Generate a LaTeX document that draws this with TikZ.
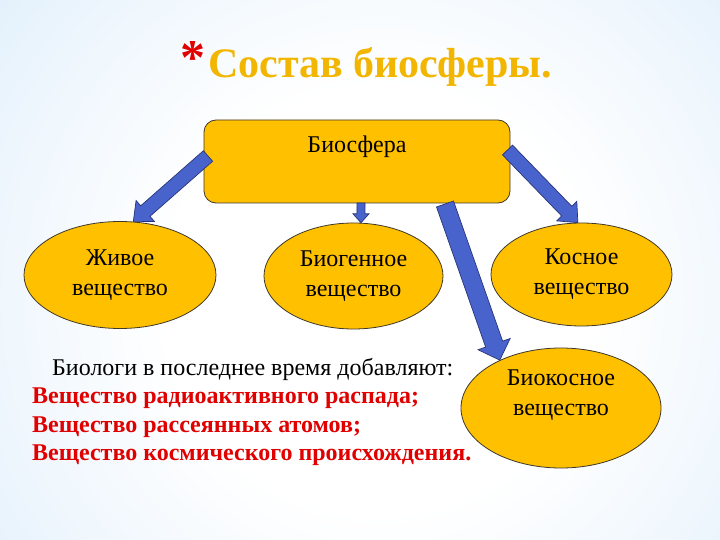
\documentclass[tikz,border=0pt]{standalone}
\usepackage{fontspec}
\setmainfont{Liberation Serif}
\usetikzlibrary{positioning,calc,shapes.geometric}

\definecolor{gold}{RGB}{255,192,0}
\definecolor{titlegold}{RGB}{242,182,0}
\definecolor{outline}{RGB}{64,56,40}
\definecolor{arrowblue}{RGB}{72,100,204}
\definecolor{arrowline}{RGB}{40,52,120}
\definecolor{listred}{RGB}{224,0,0}
\definecolor{skyA}{RGB}{238,246,253}
\definecolor{skyB}{RGB}{216,236,251}
\definecolor{skyC}{RGB}{176,219,247}
\definecolor{skyD}{RGB}{140,201,244}

\pgfdeclareradialshading{skyshade}{\pgfpoint{0bp}{0bp}}{color(0bp)=(white); color(14bp)=(white); color(26bp)=(skyA); color(38bp)=(skyB); color(50bp)=(skyC); color(64bp)=(skyD); color(72bp)=(skyD)}

\tikzset{
  blob/.style={ellipse, draw=outline, fill=gold, line width=0.8pt, inner sep=0pt,
    align=center, font=\fontsize{24}{30}\selectfont},
  blobtext/.style={align=center, font=\fontsize{24}{30}\selectfont},
  topbox/.style={draw=outline, fill=gold, line width=0.8pt, rounded corners=12pt,
    font=\fontsize{24}{30}\selectfont},
  barrow/.style={draw=arrowline, fill=arrowblue, line width=0.7pt, line join=miter},
}

% block arrow: from, to, shaft half width, head half width, head length
\newcommand{\blockarrow}[5]{%
  \coordinate (hb) at ($(#2)!#5!(#1)$);
  \filldraw[barrow] ($(#1)!#3!90:(#2)$) -- ($(hb)!#3!90:(#2)$) -- ($(hb)!#4!90:(#2)$)
    -- (#2) -- ($(hb)!#4!-90:(#2)$) -- ($(hb)!#3!-90:(#2)$) -- ($(#1)!#3!-90:(#2)$) -- cycle;
}

\begin{document}
\begin{tikzpicture}[x=1pt, y=-1pt]

\useasboundingbox (0,0) rectangle (720,540);
\shade[shading=skyshade] (0,-80) rectangle (760,680);

\node[titlegold, font=\fontsize{42}{42}\selectfont\bfseries] (title) at (380,67) {Состав биосферы.};
\node[listred, font=\fontsize{50}{50}\selectfont\bfseries] (star) at (193,58) {*};

\node[topbox, minimum width=306pt, minimum height=83pt, text depth=34pt] (bio) at (357,161.5) {Биосфера};

\node[blob, minimum width=192pt, minimum height=107pt] (alive) at (120,275) {Живое\\вещество};
\node[blob, minimum width=179pt, minimum height=106pt] (biogen) at (353.5,276) {Биогенное\\вещество};
\node[blob, minimum width=181pt, minimum height=103pt] (inert) at (581.5,274.5) {Косное\\вещество};
\node[blob, minimum width=200pt, minimum height=120pt,
  label={[blobtext, yshift=13pt]center:Биокосное\\вещество}] (bioinert) at (561,408) {};

\coordinate (t1) at (208,156);
\coordinate (t2) at (361,203);
\coordinate (t3) at (507.5,150);
\coordinate (t4) at (445,204);

\blockarrow{t1}{alive.76}{7pt}{14pt}{16pt}
\blockarrow{t2}{biogen.82}{4pt}{8pt}{9pt}
\blockarrow{t3}{inert.94}{7pt}{14pt}{16pt}
\blockarrow{t4}{bioinert.142}{9pt}{17pt}{17pt}

\node[anchor=base west, inner sep=0pt, font=\fontsize{24}{24}\selectfont] (note) at (52,375) {Биологи в последнее время добавляют:};
\foreach \txt [count=\i] in {Вещество радиоактивного распада;, Вещество рассеянных атомов;, Вещество космического происхождения.} {
  \node[anchor=base west, inner sep=0pt, listred, font=\fontsize{24}{24}\selectfont\bfseries] (extra\i) at (32,375+28.5*\i) {\txt};
}

\end{tikzpicture}
\end{document}
